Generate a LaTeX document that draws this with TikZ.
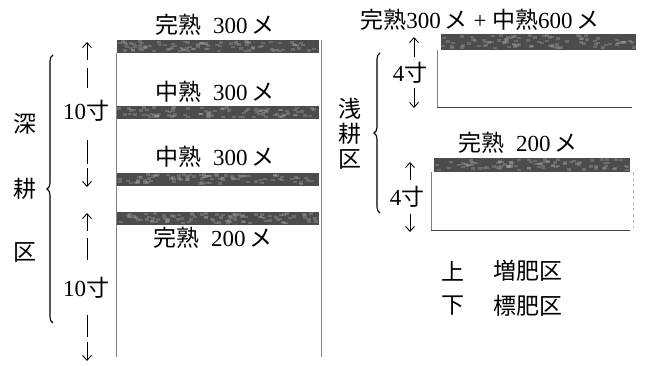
\documentclass[tikz,border=0pt]{standalone}
\usepackage{fontspec}
\setmainfont{Liberation Serif}
\newfontfamily\cjk{Noto Sans CJK JP}
\usetikzlibrary{decorations.pathreplacing,arrows.meta}
\newcommand\J[1]{{\cjk #1}}
\newcommand\soilbar[4]{%
  \fill[barfill] (#1,#2) rectangle (#3,#4);
  \foreach \k in {1,...,90}{%
    \pgfmathsetmacro\px{#1+rnd*(#3-#1-4)}%
    \pgfmathsetmacro\py{#2+rnd*(#4-#2-3)}%
    \fill[black!35,opacity=.35] (\px,\py) rectangle ++(4,2.5);}%
}
\begin{document}
\begin{tikzpicture}[x=1pt,y=-1pt,
  lbl/.style={inner sep=0pt,font=\fontsize{23}{26}\selectfont},
  barfill/.style={fill=black!70},
  wall/.style={draw=black!50,line width=0.6pt},
  floor/.style={draw=black!75,line width=0.7pt},
  dimarr/.style={line width=0.9pt,-{Straight Barb[length=5pt,width=9pt]}},
  dimbar/.style={line width=0.9pt},
  bracestyle/.style={line width=1.1pt,decorate,decoration={brace,amplitude=6pt,aspect=0.5}}]
\pgfmathsetseed{7}
\useasboundingbox (0,0) rectangle (645,365);

% ---------- left panel ----------
\draw[wall] (116,53) -- (116,357);
\draw[wall] (321,40) -- (321,357);
\soilbar{117}{40}{319}{53}
\soilbar{117}{106}{319}{119}
\soilbar{117}{173}{319}{186}
\soilbar{117}{212}{319}{225}

\node[lbl] (l1) at (215,25) {\J{完熟}\ \ 300\,\J{メ}};
\node[lbl] (l2) at (215,92) {\J{中熟}\ \ 300\,\J{メ}};
\node[lbl] (l3) at (215,157) {\J{中熟}\ \ 300\,\J{メ}};
\node[lbl] (l4) at (213,238) {\J{完熟}\ \ 200\,\J{メ}};

% dimension 1
\node[lbl] (d1) at (86,111) {10\J{寸}};
\coordinate (d1a) at (87,42);  \coordinate (d1b) at (87,60);
\coordinate (d1c) at (87,68);  \coordinate (d1d) at (87,88);
\coordinate (d1e) at (87,140); \coordinate (d1f) at (87,164);
\coordinate (d1g) at (87,168); \coordinate (d1h) at (87,187);
\draw[dimarr] (d1b) -- (d1a);
\draw[dimbar] (d1c) -- (d1d);
\draw[dimbar] (d1e) -- (d1f);
\draw[dimarr] (d1g) -- (d1h);
% dimension 2
\node[lbl] (d2) at (86,288) {10\J{寸}};
\coordinate (d2a) at (87,213); \coordinate (d2b) at (87,231);
\coordinate (d2c) at (87,238); \coordinate (d2d) at (87,260);
\coordinate (d2e) at (87,315); \coordinate (d2f) at (87,337);
\coordinate (d2g) at (87,342); \coordinate (d2h) at (87,361);
\draw[dimarr] (d2b) -- (d2a);
\draw[dimbar] (d2c) -- (d2d);
\draw[dimbar] (d2e) -- (d2f);
\draw[dimarr] (d2g) -- (d2h);

\coordinate (b1s) at (53,323); \coordinate (b1e) at (53,55);
\draw[bracestyle] (b1s) -- (b1e);
\node[lbl,align=center] (deep) at (25,188) {\J{深}\\[39pt]\J{耕}\\[37pt]\J{区}};

% ---------- right panel ----------
\node[lbl] (r0) at (480,20) {\J{完熟}300\,\J{メ} + \J{中熟}600\,\J{メ}};
\soilbar{441}{34}{636}{50}
\draw[wall] (437,50) -- (437,107);
\draw[floor] (437,107) -- (632,107);

\node[lbl] (r1) at (518,143) {\J{完熟}\ \ 200\,\J{メ}};
\soilbar{434}{158}{630}{172}
\draw[wall] (431,172) -- (431,230);
\draw[floor] (431,230) -- (630,230);
\draw[draw=black!30,dashed,line width=0.5pt] (633,172) -- (633,228);

\node[lbl] (e1) at (410,73) {4\J{寸}};
\coordinate (e1a) at (414,37); \coordinate (e1b) at (414,57);
\coordinate (e1c) at (414,88); \coordinate (e1d) at (414,108);
\draw[dimarr] (e1b) -- (e1a);
\draw[dimarr] (e1c) -- (e1d);

\node[lbl] (e2) at (407,197) {4\J{寸}};
\coordinate (e2a) at (410,162); \coordinate (e2b) at (410,180);
\coordinate (e2c) at (410,214); \coordinate (e2d) at (410,232);
\draw[dimarr] (e2b) -- (e2a);
\draw[dimarr] (e2c) -- (e2d);

\coordinate (b2s) at (380,213); \coordinate (b2e) at (380,53);
\draw[bracestyle] (b2s) -- (b2e);
\node[lbl,align=center] (shallow) at (350,134) {\J{浅}\\[-1pt]\J{耕}\\[-1pt]\J{区}};

% legend
\node[lbl] (g1) at (453,271) {\J{上}};
\node[lbl] (g2) at (528,271) {\J{増肥区}};
\node[lbl] (g3) at (453,306) {\J{下}};
\node[lbl] (g4) at (528,306) {\J{標肥区}};
\end{tikzpicture}
\end{document}
